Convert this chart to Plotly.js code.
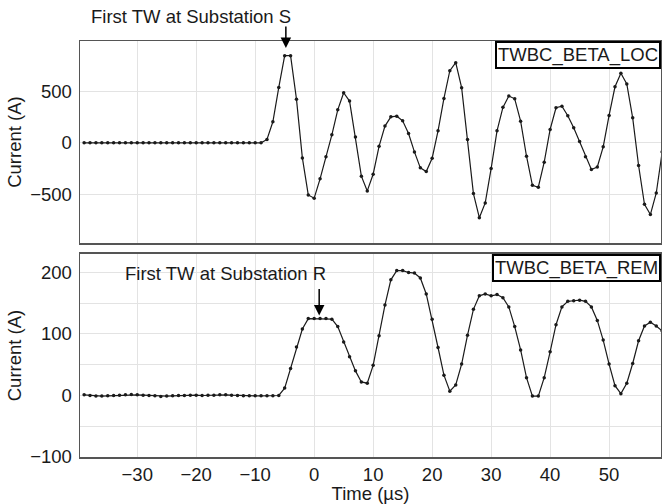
<!DOCTYPE html>
<html>
<head>
<meta charset="utf-8">
<script src="https://cdn.plot.ly/plotly-3.0.1.min.js"></script>
<style>html,body{margin:0;padding:0;background:#fff;}#chart{width:662px;height:504px;}</style>
</head>
<body>
<div id="chart"></div>
<script>
// Time samples (µs)
const timeUs = [-39,-38,-37,-36,-35,-34,-33,-32,-31,-30,-29,-28,-27,-26,-25,-24,-23,-22,-21,-20,
  -19,-18,-17,-16,-15,-14,-13,-12,-11,-10,-9,-8,-7,-6,-5,-4,-3,-2,-1,0,
  1,2,3,4,5,6,7,8,9,10,11,12,13,14,15,16,17,18,19,20,
  21,22,23,24,25,26,27,28,29,30,31,32,33,34,35,36,37,38,39,40,
  41,42,43,44,45,46,47,48,49,50,51,52,53,54,55,56,57,58,59];

// TWBC_BETA_LOC current (A)
const currentLoc = [0,0,0,0,0,0,0,0,0,0,
  0,0,0,0,0,0,0,0,0,0,
  0,0,0,0,0,0,0,0,0,0,
  0,33,205,539,847,847,425,-146,-506,-538,
  -350,-136,78,321,487,406,58,-324,-467,-305,
  -34,163,253,259,214,91,-88,-243,-279,-149,
  117,432,701,779,536,33,-493,-727,-584,-250,
  117,345,455,428,211,-130,-412,-431,-188,130,
  341,357,263,146,14,-136,-259,-234,-39,267,
  545,676,572,243,-220,-597,-697,-487,-88];

// TWBC_BETA_REM current (A)
const currentRem = [1,0,-1,-1,-0.5,0,0.5,1,1.5,1,
  0.5,0,-0.5,-1.5,-1,-0.5,0,0,0.5,0.5,
  0,0.5,0.5,1,1,0.5,0,-0.5,-0.5,-0.5,
  -0.5,-0.5,-0.5,0,12,44,79,108,125,125,
  125,125,124,112,87,63,40,22,20,49,
  97,147,188,203,203,200,199,191,165,124,
  78,33,7,17,51,98,140,162,165,162,
  164,159,144,112,74,29,-1,-1,29,71,
  115,144,153,154,155,153,144,122,90,51,
  16,3,20,52,89,113,119,113,105];

const seriesNames = ['TWBC_BETA_LOC', 'TWBC_BETA_REM'];
const locTicks = [-500, 0, 500];
const remTicks = [-100, 0, 100, 200];
const timeTicks = [-30, -20, -10, 0, 10, 20, 30, 40, 50];

const font = {family: 'Liberation Sans, Arial, sans-serif', size: 18.5, color: '#1a1a1a'};
const lineStyle = {color: '#1a1a1a', width: 1.2};
const markerStyle = {color: '#1a1a1a', size: 3.5};

const traces = [
  {x: timeUs, y: currentLoc, xaxis: 'x', yaxis: 'y', mode: 'lines+markers', line: lineStyle, marker: markerStyle, name: seriesNames[0], cliponaxis: true},
  {x: timeUs, y: currentRem, xaxis: 'x2', yaxis: 'y2', mode: 'lines+markers', line: lineStyle, marker: markerStyle, name: seriesNames[1], cliponaxis: true}
];

const gridColor = '#e3e3e3';
const frame = {showline: true, mirror: true, linecolor: '#555', linewidth: 1.5, zeroline: false, gridcolor: gridColor, gridwidth: 1, ticks: ''};
const xr = [-39.7, 58.8];

const layout = {
  width: 662, height: 504,
  margin: {l: 80, r: 1, t: 41, b: 47},
  paper_bgcolor: '#fff', plot_bgcolor: '#fff',
  font: font,
  showlegend: false,
  xaxis: Object.assign({}, frame, {domain: [0, 1], range: xr, anchor: 'y', tickvals: timeTicks, showticklabels: false}),
  yaxis: Object.assign({}, frame, {domain: [0.514, 1], range: [-975, 990], anchor: 'x', tickvals: locTicks, ticklabelstandoff: 3,
    title: {text: 'Current (A)', font: font, standoff: 3}}),
  xaxis2: Object.assign({}, frame, {domain: [0, 1], range: xr, anchor: 'y2', tickvals: timeTicks,
    title: {text: 'Time (µs)', font: font, standoff: 3}}),
  yaxis2: Object.assign({}, frame, {domain: [0, 0.488], range: [-100, 230], anchor: 'x2', tickvals: remTicks, ticklabelstandoff: 3,
    minor: {dtick: 50, showgrid: true, gridcolor: gridColor, ticks: ''},
    title: {text: 'Current (A)', font: font, standoff: 3}}),
  annotations: [
    {xref: 'paper', yref: 'paper', x: 1, y: 1, xanchor: 'right', yanchor: 'top', text: seriesNames[0], showarrow: false,
      bordercolor: '#000', borderwidth: 2, borderpad: 1, bgcolor: '#fff', font: font},
    {xref: 'paper', yref: 'paper', x: 1, y: 0.488, xanchor: 'right', yanchor: 'top', text: seriesNames[1], showarrow: false,
      bordercolor: '#000', borderwidth: 2, borderpad: 1, bgcolor: '#fff', font: font},
    {xref: 'paper', yref: 'paper', x: 0.191, y: 1.0577, xanchor: 'center', yanchor: 'middle', text: 'First TW at Substation S', showarrow: false, font: font},
    {xref: 'paper', yref: 'paper', x: 0.2496, y: 0.442, xanchor: 'center', yanchor: 'middle', text: 'First TW at Substation R', showarrow: false, font: font},
    {xref: 'x', yref: 'y', x: -4.8, y: 922, text: '', showarrow: true, ax: 0, ay: -23, arrowhead: 2, arrowsize: 1.4, arrowwidth: 1.5, arrowcolor: '#000'},
    {xref: 'x2', yref: 'y2', x: 0.85, y: 130, text: '', showarrow: true, ax: 0, ay: -28, arrowhead: 2, arrowsize: 1.4, arrowwidth: 1.5, arrowcolor: '#000'}
  ]
};

Plotly.newPlot('chart', traces, layout, {displayModeBar: false, staticPlot: true});
</script>
</body>
</html>
